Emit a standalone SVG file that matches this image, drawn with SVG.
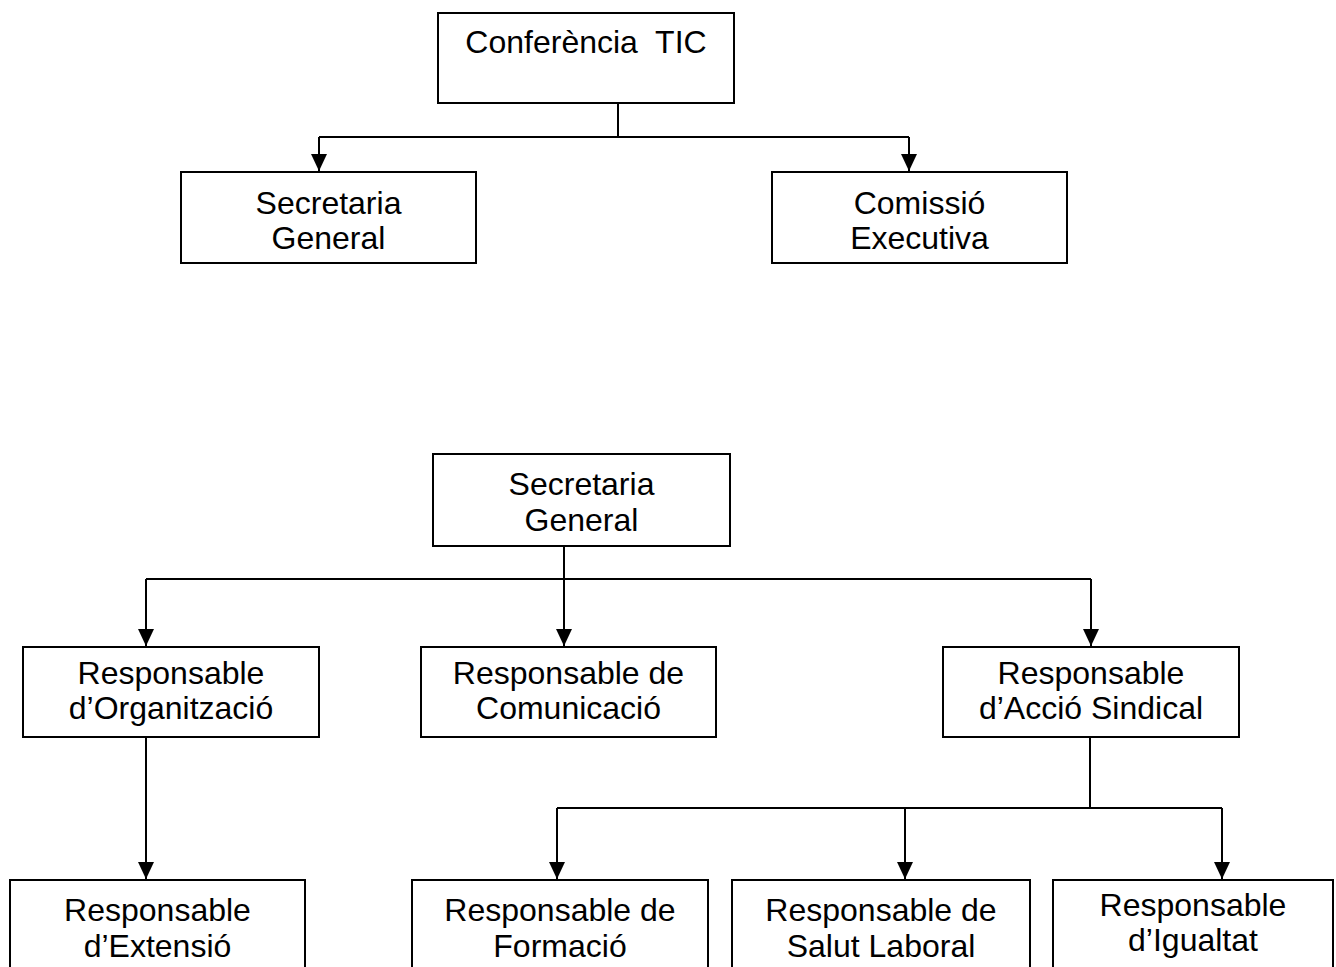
<svg xmlns="http://www.w3.org/2000/svg" width="1336" height="967" viewBox="0 0 1336 967">
<style>
.box{fill:#fff;stroke:#000;stroke-width:2}
.t{font-family:"Liberation Sans",Arial,sans-serif;font-size:32px;fill:#000;text-anchor:middle;white-space:pre}
.c{fill:none;stroke:#000;stroke-width:2}
</style>
<defs>
<marker id="ah" markerUnits="userSpaceOnUse" markerWidth="18" markerHeight="18" refX="17" refY="8" orient="auto">
<path d="M0,0 L17,8 L0,16 Z" fill="#000"/>
</marker>
</defs>
<rect width="1336" height="967" fill="#fff"/>
<g id="connectors">
<path class="c" d="M618,103 V137"/>
<path class="c" d="M319,137 H909"/>
<path class="c" d="M319,137 V171" marker-end="url(#ah)"/>
<path class="c" d="M909,137 V171" marker-end="url(#ah)"/>
<path class="c" d="M564,546 V646" marker-end="url(#ah)"/>
<path class="c" d="M146,579 H1091"/>
<path class="c" d="M146,579 V646" marker-end="url(#ah)"/>
<path class="c" d="M1091,579 V646" marker-end="url(#ah)"/>
<path class="c" d="M146,737 V879" marker-end="url(#ah)"/>
<path class="c" d="M1090,737 V808"/>
<path class="c" d="M557,808 H1222"/>
<path class="c" d="M557,808 V879" marker-end="url(#ah)"/>
<path class="c" d="M905,808 V879" marker-end="url(#ah)"/>
<path class="c" d="M1222,808 V879" marker-end="url(#ah)"/>
</g>
<g id="n-conferencia">
<rect class="box" x="438" y="13" width="296" height="90"/>
<text class="t" x="586" y="53">Conferència  TIC</text>
</g>
<g id="n-secretaria1">
<rect class="box" x="181" y="172" width="295" height="91"/>
<text class="t" x="328.5" y="214">Secretaria</text>
<text class="t" x="328.5" y="249">General</text>
</g>
<g id="n-comissio">
<rect class="box" x="772" y="172" width="295" height="91"/>
<text class="t" x="919.5" y="214">Comissió</text>
<text class="t" x="919.5" y="249">Executiva</text>
</g>
<g id="n-secretaria2">
<rect class="box" x="433" y="454" width="297" height="92"/>
<text class="t" x="581.5" y="495">Secretaria</text>
<text class="t" x="581.5" y="531">General</text>
</g>
<g id="n-organitzacio">
<rect class="box" x="23" y="647" width="296" height="90"/>
<text class="t" x="171" y="684">Responsable</text>
<text class="t" x="171" y="719">d’Organització</text>
</g>
<g id="n-comunicacio">
<rect class="box" x="421" y="647" width="295" height="90"/>
<text class="t" x="568.5" y="684">Responsable de</text>
<text class="t" x="568.5" y="719">Comunicació</text>
</g>
<g id="n-accio">
<rect class="box" x="943" y="647" width="296" height="90"/>
<text class="t" x="1091" y="684">Responsable</text>
<text class="t" x="1091" y="719">d’Acció Sindical</text>
</g>
<g id="n-extensio">
<rect class="box" x="10" y="880" width="295" height="100"/>
<text class="t" x="157.5" y="921">Responsable</text>
<text class="t" x="157.5" y="957">d’Extensió</text>
</g>
<g id="n-formacio">
<rect class="box" x="412" y="880" width="296" height="100"/>
<text class="t" x="560" y="921">Responsable de</text>
<text class="t" x="560" y="957">Formació</text>
</g>
<g id="n-salut">
<rect class="box" x="732" y="880" width="298" height="100"/>
<text class="t" x="881" y="921">Responsable de</text>
<text class="t" x="881" y="957">Salut Laboral</text>
</g>
<g id="n-igualtat">
<rect class="box" x="1053" y="880" width="280" height="100"/>
<text class="t" x="1193" y="916">Responsable</text>
<text class="t" x="1193" y="951">d’Igualtat</text>
</g>
</svg>
